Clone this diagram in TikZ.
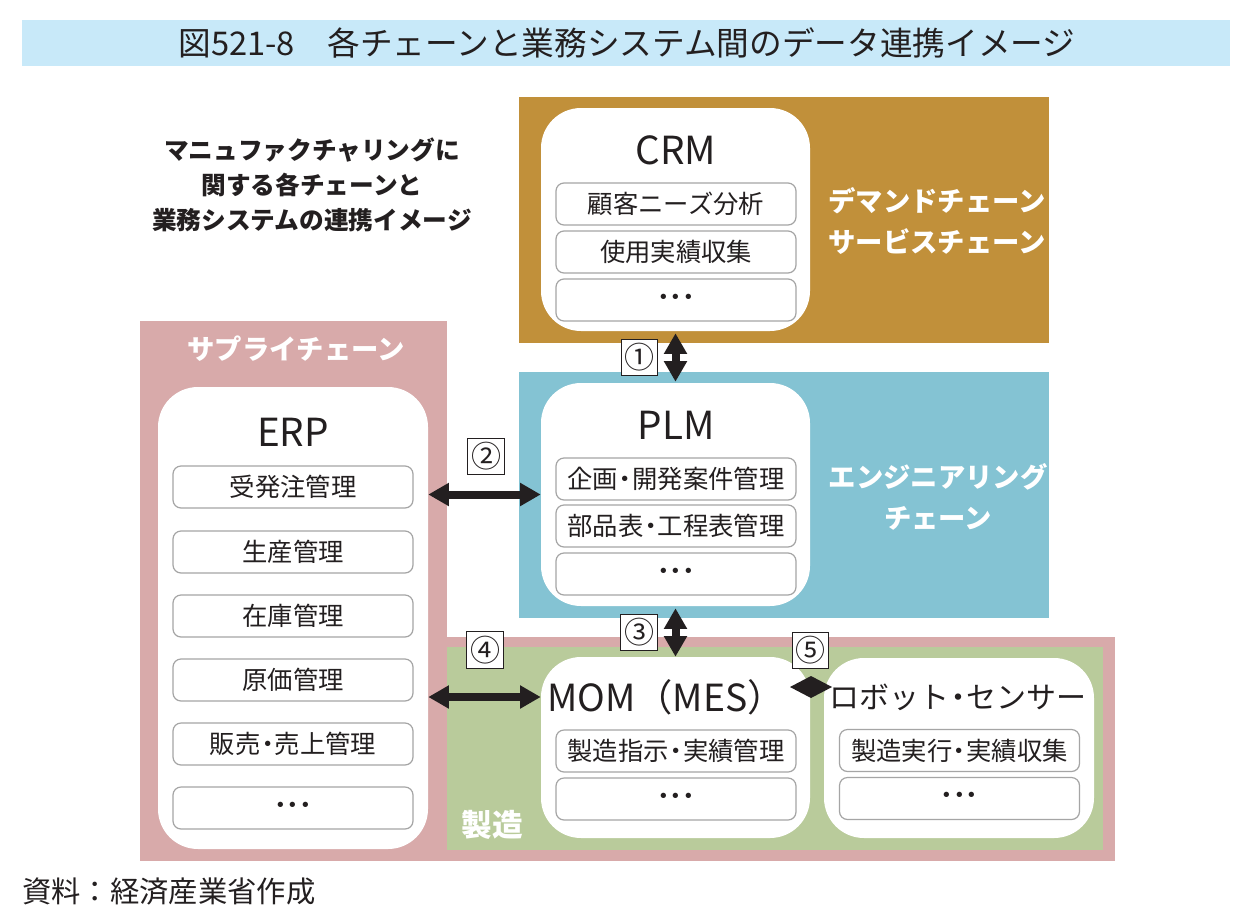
\documentclass[tikz,border=0pt]{standalone}
\usepackage{fontspec}
\setmainfont{Noto Sans CJK JP}
\usetikzlibrary{arrows.meta}
\definecolor{titlebg}{RGB}{200,233,249}
\definecolor{crmbg}{RGB}{193,144,58}
\definecolor{plmbg}{RGB}{132,195,211}
\definecolor{pinkbg}{RGB}{216,170,170}
\definecolor{greenbg}{RGB}{185,203,155}
\definecolor{subgray}{RGB}{165,165,165}
\definecolor{ink}{RGB}{35,31,32}
\newcommand{\ndot}{\kern-0.22em・\kern-0.22em}
\begin{document}
\begin{tikzpicture}[x=0.75pt,y=-0.75pt,
  sysbox/.style={fill=white, draw=none, rounded corners=30pt, inner sep=0pt},
  systitle/.style={font=\fontsize{29}{32}\selectfont, text=ink, inner sep=0pt},
  subbox/.style={draw=subgray, line width=0.9pt, fill=white, rounded corners=6pt,
    minimum width=180pt, minimum height=31.5pt, inner sep=0pt,
    font=\fontsize{19}{20}\selectfont, text=ink},
  numbox/.style={draw=ink, line width=0.8pt, fill=white, minimum size=27.5pt,
    inner sep=0pt, font=\fontsize{22.5}{23}\selectfont, text=ink},
  chainlabel/.style={font=\bfseries\fontsize{20.5}{30.75}\selectfont, text=white,
    align=center, inner sep=0pt},
  dbl/.style={line width=6pt, draw=ink,
    {Triangle[width=16.5pt,length=15.5pt]}-{Triangle[width=16.5pt,length=15.5pt]}}
]
\useasboundingbox (0,0) rectangle (1250,922);
\fill[white] (0,0) rectangle (1250,922);

% title
\fill[titlebg] (22,20) rectangle (1230,66);
\node[font=\fontsize{24.5}{26}\selectfont, text=ink, inner sep=0pt] (title) at (627,43)
  {図521-8　各チェーンと業務システム間のデータ連携イメージ};

% regions
\fill[crmbg] (519,97) rectangle (1049,343);
\fill[plmbg] (519,372) rectangle (1049,618);
\fill[pinkbg] (140,321) rectangle (447,861);
\fill[pinkbg] (428,637) rectangle (1115,861);
\fill[greenbg] (447,647) rectangle (1103,850);

% heading text
\node[font=\bfseries\fontsize{18.5}{26.25}\selectfont, text=ink, align=center, inner sep=0pt] (head) at (312,185)
  {マニュファクチャリングに\\関する各チェーンと\\業務システムの連携イメージ};

% chain labels
\node[chainlabel] (demand) at (937,221) {デマンドチェーン\\サービスチェーン};
\node[chainlabel] (eng) at (938,497) {エンジニアリング\\チェーン};
\node[chainlabel] (supply) at (296,349) {サプライチェーン};
\node[chainlabel, font=\bfseries\fontsize{23}{24}\selectfont] (mfg) at (492,825) {製造};

% system boxes
\node[sysbox, minimum width=201.75pt, minimum height=167.25pt] (crm) at (675.5,219.5) {};
\node[sysbox, minimum width=201.75pt, minimum height=167.25pt] (plm) at (675.5,494.5) {};
\node[sysbox, minimum width=202.5pt, minimum height=346.5pt] (erp) at (293,618) {};
\node[sysbox, minimum width=201.75pt, minimum height=135.75pt] (mom) at (675.5,747.5) {};
\node[sysbox, minimum width=202.5pt, minimum height=135pt] (robot) at (959,748) {};

% system titles
\node[systitle] (crmt) at (676,150) {CRM};
\node[systitle] (plmt) at (676,425) {PLM};
\node[systitle] (erpt) at (293,432) {ERP};
\node[systitle, font=\fontsize{28}{30}\selectfont] (momt) at (666,697) {MOM（MES）};
\node[systitle, font=\fontsize{22.5}{24}\selectfont] (robott) at (958,697) {ロボット\ndot センサー};

% sub boxes
\node[subbox] (crm1) at (676,204) {顧客ニーズ分析};
\node[subbox] (crm2) at (676,252) {使用実績収集};
\node[subbox] (crm3) at (676,300) {\bfseries･･･};
\node[subbox] (plm1) at (676,479) {企画\ndot 開発案件管理};
\node[subbox] (plm2) at (676,526) {部品表\ndot 工程表管理};
\node[subbox] (plm3) at (676,574) {\bfseries･･･};
\node[subbox] (erp1) at (293,487) {受発注管理};
\node[subbox] (erp2) at (293,552) {生産管理};
\node[subbox] (erp3) at (293,616) {在庫管理};
\node[subbox] (erp4) at (293,680) {原価管理};
\node[subbox] (erp5) at (293,744) {販売\ndot 売上管理};
\node[subbox] (erp6) at (293,808) {\bfseries･･･};
\node[subbox] (mom1) at (676,751) {製造指示\ndot 実績管理};
\node[subbox] (mom2) at (676,799) {\bfseries･･･};
\node[subbox] (rob1) at (959.5,750.5) {製造実行\ndot 実績収集};
\node[subbox] (rob2) at (959.5,798.5) {\bfseries･･･};

% connectors
\coordinate (y4) at (0,697);
\coordinate (c5a) at (790,687);
\coordinate (c5b) at (832,687);
\draw[dbl] ([yshift=-1.5pt]crm.south) -- ([yshift=0.75pt]plm.north);
\draw[dbl] (erp.east |- plm.west) -- (plm.west);
\draw[dbl] ([yshift=-1.5pt]plm.south) -- (mom.north);
\draw[dbl] (erp.east |- y4) -- (mom.west |- y4);
\fill[ink] (c5a) -- (811,676) -- (c5b) -- (811,698) -- cycle;

% number boxes
\node[numbox] (n1) at (639.5,357.5) {①};
\node[numbox] (n2) at (486,456.5) {②};
\node[numbox] (n3) at (639,632.5) {③};
\node[numbox] (n4) at (485,650) {④};
\node[numbox] (n5) at (810.5,650.5) {⑤};

% footer
\node[anchor=west, font=\fontsize{22}{24}\selectfont, text=ink, inner sep=0pt] (src) at (22,891)
  {資料：経済産業省作成};
\end{tikzpicture}
\end{document}
